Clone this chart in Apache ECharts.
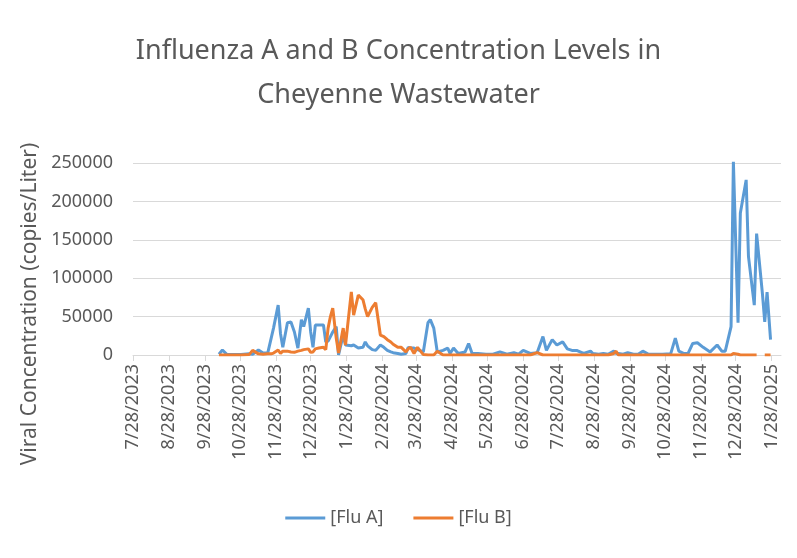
<!DOCTYPE html>
<html>
<head>
<meta charset="utf-8">
<script src="https://cdn.jsdelivr.net/npm/echarts@6/dist/echarts.min.js"></script>
<style>
  html, body { margin: 0; padding: 0; background: #fff; }
  #chart { width: 797px; height: 558px; }
</style>
</head>
<body>
<div id="chart"></div>
<script>
// sample dates and concentrations (copies/Liter)
const sampleDates = [
  '2023-10-10','2023-10-13','2023-10-17','2023-10-22','2023-10-29','2023-11-05','2023-11-08','2023-11-13',
  '2023-11-17','2023-11-21','2023-11-24','2023-11-26','2023-11-30','2023-12-02','2023-12-04','2023-12-08',
  '2023-12-11','2023-12-14','2023-12-17','2023-12-20','2023-12-22','2023-12-26','2023-12-28','2023-12-30',
  '2024-01-01','2024-01-04','2024-01-08','2024-01-10','2024-01-12','2024-01-14','2024-01-16','2024-01-19',
  '2024-01-21','2024-01-25','2024-01-27','2024-02-01','2024-02-03','2024-02-07','2024-02-11','2024-02-13',
  '2024-02-15','2024-02-19','2024-02-22','2024-02-26','2024-02-29','2024-03-03','2024-03-06','2024-03-08',
  '2024-03-12','2024-03-15','2024-03-19','2024-03-21','2024-03-23','2024-03-26','2024-03-29','2024-04-03',
  '2024-04-07','2024-04-09','2024-04-12','2024-04-15','2024-04-20','2024-04-24','2024-04-26','2024-04-29',
  '2024-05-03','2024-05-09','2024-05-12','2024-05-15','2024-05-20','2024-05-27','2024-06-02','2024-06-08',
  '2024-06-14','2024-06-20','2024-06-24','2024-06-28','2024-07-04','2024-07-10','2024-07-15','2024-07-18',
  '2024-07-23','2024-07-27','2024-08-01','2024-08-05','2024-08-09','2024-08-13','2024-08-19','2024-08-25',
  '2024-08-27','2024-09-01','2024-09-05','2024-09-09','2024-09-14','2024-09-16','2024-09-18','2024-09-22',
  '2024-09-26','2024-10-01','2024-10-05','2024-10-09','2024-10-14','2024-10-20','2024-10-26','2024-11-02',
  '2024-11-06','2024-11-09','2024-11-13','2024-11-17','2024-11-21','2024-11-25','2024-11-30','2024-12-06',
  '2024-12-12','2024-12-16','2024-12-19','2024-12-24','2024-12-26','2024-12-30','2025-01-01','2025-01-06',
  '2025-01-08','2025-01-13','2025-01-15','2025-01-20','2025-01-22','2025-01-24','2025-01-27'
];
const fluA = [
  1000, 6500, 500, 500, 800, 1500, 1000, 6500,
  2500, 2500, 22000, 35000, 65000, 28000, 10000, 42000,
  43000, 30000, 9000, 46000, 37000, 61000, 30000, 10000,
  39000, 39000, 39000, 17000, 18000, 24000, 30000, 37000,
  0, 26000, 13000, 12000, 13000, 9000, 10000, 17000,
  12000, 7000, 6000, 13000, 10000, 6000, 4000, 3000,
  2000, 1000, 2000, 10000, 9000, 9000, 7000, 4000,
  42000, 46000, 35000, 4000, 6000, 9000, 2000, 9000,
  2000, 4000, 15000, 2000, 2000, 1000, 1000, 4000,
  1000, 3000, 1000, 6000, 2000, 3000, 24000, 6000,
  20000, 13000, 17000, 8000, 6000, 6000, 2000, 5000,
  2000, 1000, 2000, 1000, 5000, 2000, 2000, 1000,
  3000, 1000, 1000, 5000, 1000, 1000, 1000, 1500,
  22000, 5000, 2000, 2000, 15000, 16000, 10000, 4000,
  13000, 5000, 5000, 37000, 252000, 42000, 185000, 228000,
  128000, 65000, 158000, 80000, 43000, 82000, 20000
];
const fluB = [
  0, 0, 0, 0, 0, 500, 6000, 1500,
  1000, 1500, 1500, 2500, 6500, 2000, 5000, 5000,
  4000, 3500, 5000, 6000, 7000, 8000, 3500, 4000,
  8000, 9000, 10000, 7000, 35000, 50000, 61000, 22000,
  2500, 35000, 13000, 82000, 52000, 78000, 72000, 60000,
  50000, 62000, 68000, 26000, 24000, 20000, 17000, 14000,
  10000, 10000, 4000, 8000, 10000, 2000, 10000, 500,
  0, 0, 0, 5000, 0, 0, 0, 0,
  0, 0, 0, 0, 0, 0, 0, 0,
  0, 0, 0, 0, 0, 3000, 0, 0,
  0, 0, 0, 0, 0, 0, 0, 0,
  0, 0, 0, 0, 2000, 5000, 0, 0,
  0, 0, 0, 0, 0, 0, 0, 0,
  0, 0, 0, 0, 0, 0, 0, 0,
  0, 0, 0, 0, 2000, 1000, 0, 0,
  0, 0, 0, null, 0, 0, 0
];
const tickDates = [
  '2023-07-28','2023-08-28','2023-09-28','2023-10-28','2023-11-28','2023-12-28','2024-01-28',
  '2024-02-28','2024-03-28','2024-04-28','2024-05-28','2024-06-28','2024-07-28','2024-08-28',
  '2024-09-28','2024-10-28','2024-11-28','2024-12-28','2025-01-28'
];
const axisEndDate = '2025-02-05';
const yTicks = [0, 50000, 100000, 150000, 200000, 250000];

const DAY = 86400000;
const base = Date.parse(tickDates[0] + 'T00:00:00Z');
const toDay = s => Math.round((Date.parse(s + 'T00:00:00Z') - base) / DAY);
const fmt = v => {
  const d = new Date(base + Math.round(v) * DAY);
  return (d.getUTCMonth() + 1) + '/' + d.getUTCDate() + '/' + d.getUTCFullYear();
};
const xDays = sampleDates.map(toDay);
const tickDays = tickDates.map(toDay);

const font = 'Noto Sans';
const grey = '#595959';
const linePath = 'path://M0,0H40V3H0Z';

const chart = echarts.init(document.getElementById('chart'));
chart.setOption({
  animation: false,
  color: ['#5b9bd5', '#ed7d31'],
  title: {
    text: 'Influenza A and B Concentration Levels in\nCheyenne Wastewater',
    left: 'center',
    top: 24,
    textStyle: { fontFamily: font, fontSize: 27, fontWeight: 'normal', color: grey, lineHeight: 44 }
  },
  graphic: [{
    type: 'text',
    x: 30, y: 304,
    rotation: Math.PI / 2,
    style: {
      text: 'Viral Concentration (copies/Liter)',
      fontFamily: font, fontSize: 21, fill: grey,
      align: 'center', verticalAlign: 'middle'
    }
  }],
  legend: {
    bottom: 26,
    left: 'center',
    itemWidth: 40,
    itemHeight: 3,
    itemGap: 30,
    textStyle: { fontFamily: font, fontSize: 18, color: grey },
    data: [{ name: '[Flu A]', icon: linePath }, { name: '[Flu B]', icon: linePath }]
  },
  grid: { left: 133, right: 16, top: 163, bottom: 203, outerBoundsMode: 'none' },
  xAxis: {
    type: 'value',
    min: tickDays[0],
    max: toDay(axisEndDate),
    splitLine: { show: false },
    axisLine: { lineStyle: { color: '#d9d9d9' } },
    axisTick: { show: true, length: 6, customValues: tickDays, lineStyle: { color: '#d9d9d9' } },
    axisLabel: {
      customValues: tickDays,
      rotate: 90,
      margin: 9,
      fontFamily: font, fontSize: 18, color: grey,
      formatter: v => fmt(v)
    }
  },
  yAxis: {
    type: 'value',
    min: yTicks[0],
    max: yTicks[yTicks.length - 1],
    interval: 50000,
    axisLine: { show: false },
    axisTick: { show: false },
    splitLine: { lineStyle: { color: '#d9d9d9' } },
    axisLabel: { margin: 20, fontFamily: font, fontSize: 18, color: grey, formatter: v => String(v) }
  },
  series: [
    {
      name: '[Flu A]',
      type: 'line',
      symbol: 'none',
      lineStyle: { width: 3 },
      data: xDays.map((d, i) => [d, fluA[i]])
    },
    {
      name: '[Flu B]',
      type: 'line',
      symbol: 'none',
      connectNulls: false,
      lineStyle: { width: 3 },
      data: xDays.map((d, i) => [d, fluB[i]])
    }
  ]
});
</script>
</body>
</html>
